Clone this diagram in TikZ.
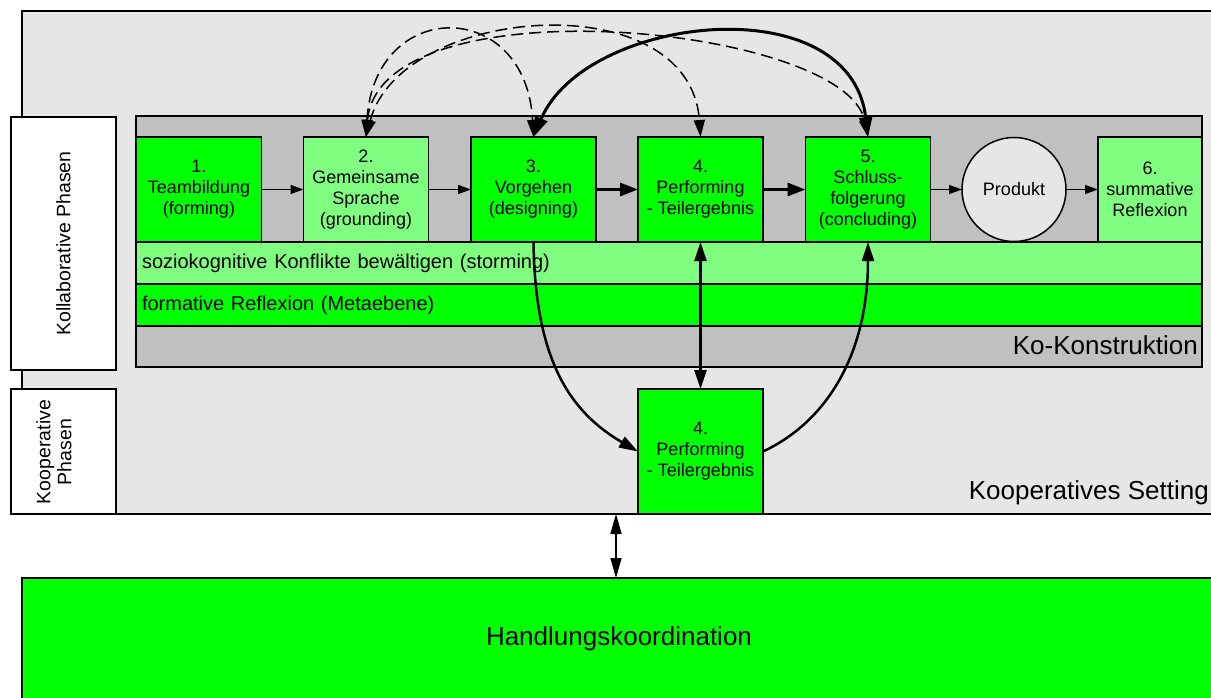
\documentclass[tikz,border=0pt]{standalone}
\usepackage{fontspec}
\setmainfont{Liberation Sans}
\usetikzlibrary{arrows.meta}
\definecolor{grn}{RGB}{0,255,0}
\definecolor{lgrn}{RGB}{128,255,128}
\definecolor{midgray}{RGB}{192,192,192}
\definecolor{pale}{RGB}{230,230,230}
\newcommand\bxfont{\fontsize{18}{21}\selectfont}
\newcommand\bandfont{\fontsize{20}{24}\selectfont}
\newcommand\bigfont{\fontsize{26}{30}\selectfont}
\newcommand\sidefont{\fontsize{19.5}{21}\selectfont}
\begin{document}
\begin{tikzpicture}[x=1pt,y=-1pt,
  frame/.style={draw=black, line width=1.5pt, inner sep=0pt, outer sep=0pt},
  phase/.style={frame, fill=grn, minimum width=125pt, minimum height=105pt,
    align=center, font=\bxfont},
  band/.style={frame, minimum height=42pt, text width=1054pt, inner xsep=6pt,
    align=left, font=\bandfont},
  flowthin/.style={line width=1.3pt, -{Triangle[length=13pt,width=9pt]}},
  flowthick/.style={line width=3pt, -{Triangle[length=18pt,width=13pt]}},
  link/.style={line width=2.5pt},
  linktip/.tip={Triangle[length=19pt,width=12pt]},
  dlink/.style={line width=1.5pt, dash pattern=on 12pt off 6pt,
    {Triangle[length=17pt,width=11pt]}-{Triangle[length=17pt,width=11pt]}},
  bigarc/.style={line width=3pt,
    {Triangle[length=20pt,width=13pt]}-{Triangle[length=20pt,width=13pt]}},
  hklink/.style={line width=1.5pt,
    {Triangle[length=20pt,width=11pt]}-{Triangle[length=20pt,width=11pt]}}
]
\useasboundingbox (0,0) rectangle (1211,697);
\clip (0,0) rectangle (1211,697);

% outer setting
\node[frame, fill=pale, minimum width=1203pt, minimum height=503pt] (setting) at (623.5,262.5) {};
\node[anchor=east, font=\bigfont, inner sep=0pt] (settinglabel) at (1209,493) {Kooperatives Setting};

% phase labels on the left
\node[frame, fill=white, minimum width=105pt, minimum height=253pt] (kollab) at (63.5,243.5) {};
\node[rotate=90, font=\sidefont, inner sep=0pt] (kollablabel) at (kollab) {Kollaborative Phasen};
\node[frame, fill=white, minimum width=105pt, minimum height=125pt] (koop) at (63.5,451.5) {};
\node[rotate=90, font=\sidefont, align=center, inner sep=0pt] (kooplabel) at (54,452) {Kooperative\\Phasen};

% co-construction container
\node[frame, fill=midgray, minimum width=1066pt, minimum height=251pt] (kokon) at (669,241.5) {};
\node[anchor=east, font=\bigfont, inner sep=0pt] (kokonlabel) at (1198,345) {Ko-Konstruktion};

% bands
\node[band, fill=lgrn] (storm) at (669,263) {soziokognitive Konflikte bewältigen (storming)};
\node[band, fill=grn] (meta) at (669,305) {formative Reflexion (Metaebene)};

% phases
\node[phase] (p1) at (199,189.5) {1.\\Teambildung\\(forming)};
\node[phase, fill=lgrn] (p2) at (366,189.5) {2.\\Gemeinsame\\Sprache\\(grounding)};
\node[phase] (p3) at (533.5,189.5) {3.\\Vorgehen\\(designing)};
\node[phase] (p4) at (700.5,189.5) {4.\\Performing\\- Teilergebnis};
\node[phase] (p5) at (868,189.5) {5.\\Schluss-\\folgerung\\(concluding)};
\node[frame, circle, fill=pale, minimum size=104pt, font=\bxfont] (prod) at (1014,189.5) {Produkt};
\node[phase, fill=lgrn, minimum width=104pt] (p6) at (1150,189.5) {6.\\summative\\Reflexion};
\node[phase, minimum height=125pt] (p4b) at (700.5,451.5) {4.\\Performing\\- Teilergebnis};

% action coordination
\node[frame, fill=grn, minimum width=1194pt, minimum height=122pt, font=\bigfont] (hk) at (619,639) {Handlungskoordination};
\coordinate (hkport) at (616,578);

% sequence
\draw[flowthin] (p1.east) -- (p2.west);
\draw[flowthin] (p2.east) -- (p3.west);
\draw[flowthick] (p3.east) -- (p4.west);
\draw[flowthick] (p4.east) -- (p5.west);
\draw[flowthin] (p5.east) -- (prod.west);
\draw[flowthin] (prod.east) -- (p6.west);

% collaborative vs cooperative performing
\draw[link, linktip-linktip] (p4.south) -- (p4b.north);
\draw[link, -linktip] (p3.south) .. controls (535,360) and (570,412) .. (p4b.west);
\draw[link, -linktip] (p4b.east) .. controls (830,420) and (868,350) .. (p5.south);

% feedback arcs
\draw[dlink] (p2.north) .. controls (374,-3) and (526,-3) .. (p3.north);
\draw[dlink] (p2.north) .. controls (400,5) and (690,-18) .. (p4.north);
\draw[dlink] (p2.north) .. controls (380,-20) and (845,25) .. (p5.north);
\draw[bigarc] (p3.north) .. controls (585,15) and (850,-15) .. (p5.north);

% link to action coordination
\draw[hklink] (setting.south -| hkport) -- (hk.north -| hkport);
\end{tikzpicture}
\end{document}
